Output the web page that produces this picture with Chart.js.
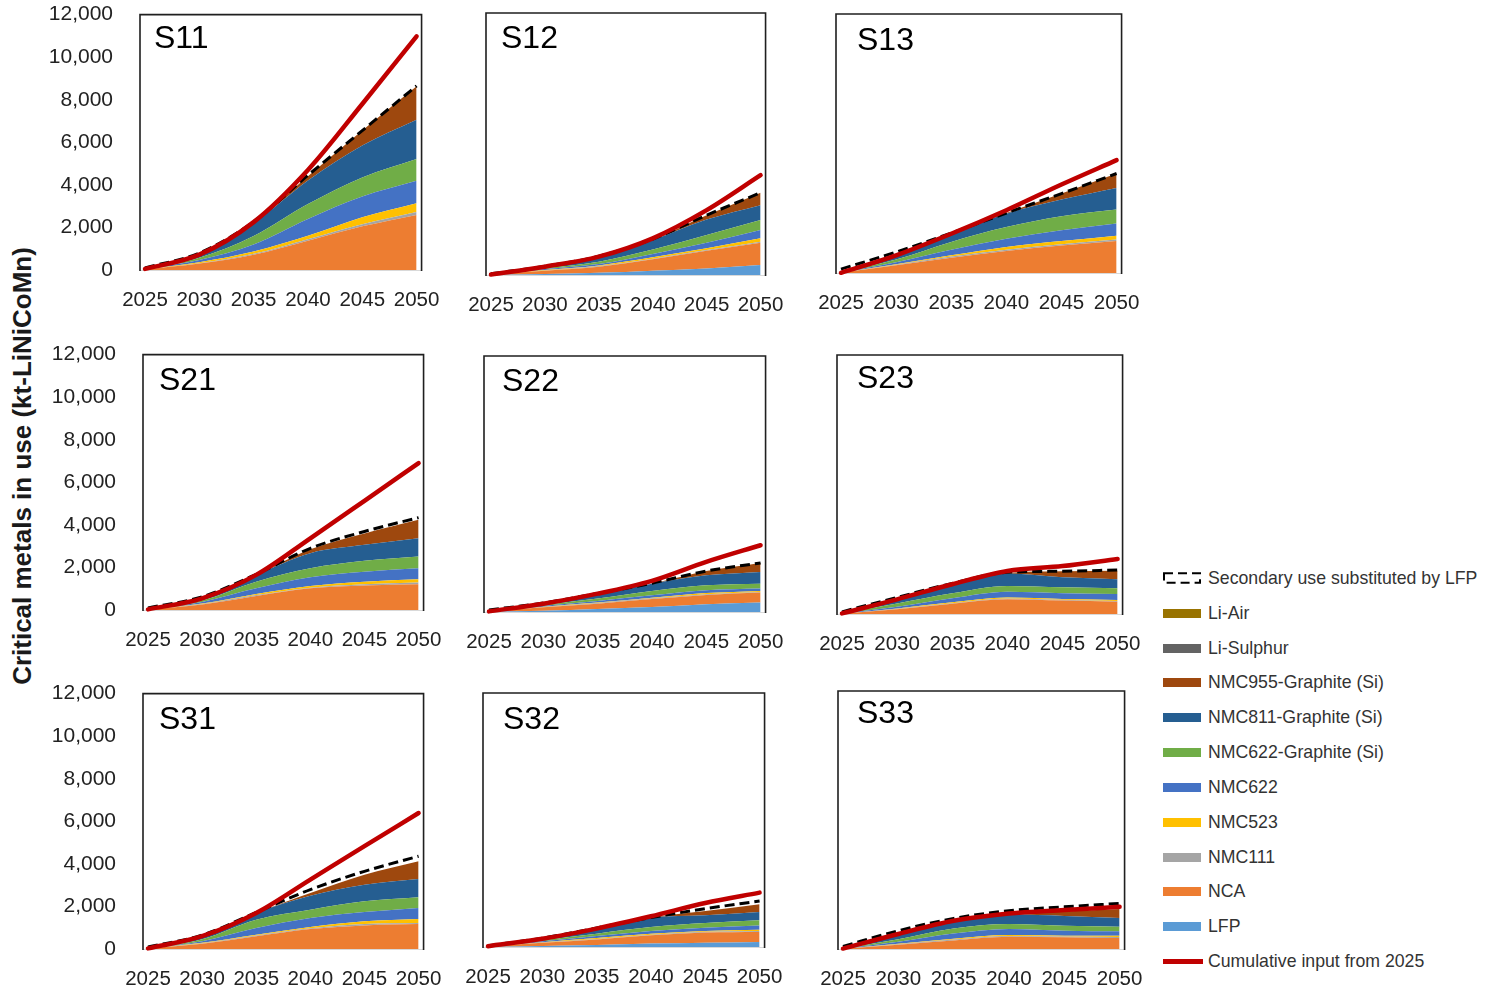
<!DOCTYPE html>
<html>
<head>
<meta charset="utf-8">
<script src="https://cdn.jsdelivr.net/npm/chart.js@4.4.1/dist/chart.umd.min.js"></script>
<style>
  html, body { margin: 0; padding: 0; background: #fff; }
  body { width: 1497px; height: 991px; position: relative; overflow: hidden; font-family: "Liberation Sans", Arial, sans-serif; }
  canvas { position: absolute; }
  #ytitle { position: absolute; left: 22px; top: 466px; transform: translate(-50%, -50%) rotate(-90deg); white-space: nowrap; font-weight: bold; font-size: 26px; color: #1a1a1a; }
  .lg { position: absolute; left: 1163px; height: 22px; display: flex; align-items: center; font-size: 17.7px; color: #333; white-space: nowrap; }
  .sw { display: inline-block; width: 38px; height: 9px; margin-right: 7px; flex: none; }
</style>
</head>
<body>
<div id="ytitle">Critical metals in use (kt-LiNiCoMn)</div>
<div id="legend"></div>
<script>
// ---------------- DATA ----------------
const years = [2025, 2030, 2035, 2040, 2045, 2050];
const xTickValues = [2025, 2030, 2035, 2040, 2045, 2050];
const yTickValues = [0, 2000, 4000, 6000, 8000, 10000, 12000];
const seriesNames = ['LFP', 'NCA', 'NMC111', 'NMC523', 'NMC622', 'NMC622-Graphite (Si)', 'NMC811-Graphite (Si)', 'NMC955-Graphite (Si)', 'Li-Sulphur', 'Li-Air'];
const secondaryName = 'Secondary use substituted by LFP';
const cumulativeName = 'Cumulative input from 2025';
const panelNames = ['S11', 'S12', 'S13', 'S21', 'S22', 'S23', 'S31', 'S32', 'S33'];

// layer values (kt), rows in seriesNames order, columns in years order
const S11_layers = [
  [0, 0, 0, 0, 0, 0],
  [30, 300, 720, 1380, 2050, 2590],
  [10, 20, 40, 70, 100, 140],
  [10, 50, 110, 160, 330, 410],
  [10, 100, 330, 790, 970, 1050],
  [10, 110, 400, 700, 900, 1030],
  [10, 170, 600, 1100, 1500, 1840],
  [0, 0, 50, 200, 700, 1570],
  [0, 0, 0, 0, 0, 0],
  [0, 0, 0, 0, 0, 0]
];
const S11_secondary = [100, 800, 2270, 4450, 6550, 8650];
const S11_cumulative = [50, 720, 2250, 4700, 7800, 10980];

const S12_layers = [
  [10, 50, 100, 200, 300, 460],
  [20, 150, 280, 520, 810, 1020],
  [0, 10, 30, 30, 30, 40],
  [10, 20, 30, 60, 80, 160],
  [0, 40, 60, 150, 260, 380],
  [10, 40, 110, 210, 350, 460],
  [0, 50, 230, 430, 710, 680],
  [0, 0, 0, 30, 200, 570],
  [0, 0, 0, 0, 0, 0],
  [0, 0, 0, 0, 0, 0]
];
const S12_secondary = [60, 400, 860, 1650, 2740, 3770];
const S12_cumulative = [20, 380, 840, 1680, 2970, 4570];

const S13_layers = [
  [0, 0, 0, 0, 0, 0],
  [20, 360, 710, 1020, 1270, 1480],
  [0, 20, 50, 60, 60, 70],
  [0, 30, 60, 130, 150, 180],
  [10, 90, 260, 380, 500, 560],
  [0, 120, 360, 540, 650, 650],
  [0, 130, 380, 620, 770, 1000],
  [0, 0, 0, 30, 280, 670],
  [0, 0, 0, 0, 0, 0],
  [0, 0, 0, 0, 0, 0]
];
const S13_secondary = [180, 970, 1850, 2780, 3680, 4610];
const S13_cumulative = [10, 820, 1820, 2910, 4100, 5230];

const S21_layers = [
  [0, 0, 0, 0, 0, 0],
  [30, 260, 660, 1020, 1150, 1210],
  [0, 20, 40, 30, 60, 80],
  [0, 20, 50, 80, 120, 150],
  [10, 80, 270, 410, 470, 520],
  [0, 70, 310, 420, 510, 550],
  [10, 100, 320, 710, 750, 860],
  [0, 0, 0, 180, 540, 870],
  [0, 0, 0, 0, 0, 0],
  [0, 0, 0, 0, 0, 0]
];
const S21_secondary = [100, 620, 1680, 2900, 3690, 4340];
const S21_cumulative = [30, 550, 1650, 3370, 5130, 6900];

const S22_layers = [
  [10, 60, 140, 230, 360, 440],
  [20, 160, 250, 380, 440, 470],
  [0, 10, 30, 30, 30, 30],
  [0, 20, 20, 30, 60, 50],
  [10, 40, 80, 110, 130, 110],
  [0, 40, 110, 210, 230, 230],
  [10, 60, 220, 340, 470, 550],
  [0, 0, 0, 0, 200, 420],
  [0, 0, 0, 0, 0, 0],
  [0, 0, 0, 0, 0, 0]
];
const S22_secondary = [100, 420, 870, 1350, 1920, 2300];
const S22_cumulative = [30, 390, 860, 1460, 2350, 3130];

const S23_layers = [
  [0, 0, 0, 0, 0, 0],
  [20, 220, 480, 680, 620, 570],
  [0, 20, 20, 40, 40, 30],
  [0, 20, 40, 40, 40, 50],
  [10, 80, 190, 270, 260, 280],
  [0, 150, 230, 270, 280, 260],
  [0, 130, 380, 580, 460, 420],
  [0, 0, 0, 20, 280, 390],
  [0, 0, 0, 0, 0, 0],
  [0, 0, 0, 0, 0, 0]
];
const S23_secondary = [100, 770, 1420, 1930, 1980, 2040];
const S23_cumulative = [30, 680, 1380, 1990, 2220, 2550];

const S31_layers = [
  [0, 0, 0, 0, 0, 0],
  [30, 250, 600, 940, 1110, 1170],
  [0, 20, 30, 30, 70, 50],
  [0, 20, 40, 60, 120, 190],
  [10, 80, 320, 430, 440, 520],
  [0, 90, 390, 390, 500, 500],
  [10, 120, 310, 650, 780, 860],
  [0, 0, 0, 130, 470, 830],
  [0, 0, 0, 0, 0, 0],
  [0, 0, 0, 0, 0, 0]
];
const S31_secondary = [100, 650, 1720, 2790, 3650, 4360];
const S31_cumulative = [30, 600, 1690, 3260, 4830, 6390];

const S32_layers = [
  [10, 50, 90, 160, 200, 240],
  [20, 150, 270, 390, 480, 470],
  [0, 10, 20, 30, 40, 50],
  [0, 20, 50, 50, 40, 60],
  [10, 40, 90, 130, 150, 200],
  [0, 50, 110, 180, 220, 240],
  [0, 70, 240, 450, 370, 390],
  [0, 0, 0, 0, 200, 370],
  [0, 0, 0, 0, 0, 0],
  [0, 0, 0, 0, 0, 0]
];
const S32_secondary = [60, 420, 900, 1390, 1810, 2170];
const S32_cumulative = [40, 390, 870, 1450, 2080, 2570];

const S33_layers = [
  [0, 0, 0, 0, 0, 0],
  [10, 200, 400, 570, 550, 510],
  [0, 20, 40, 40, 30, 50],
  [0, 20, 40, 40, 40, 60],
  [10, 100, 240, 280, 230, 200],
  [0, 110, 230, 230, 230, 210],
  [0, 230, 360, 440, 460, 410],
  [0, 0, 0, 20, 200, 420],
  [0, 0, 0, 0, 0, 0],
  [0, 0, 0, 0, 0, 0]
];
const S33_secondary = [120, 850, 1420, 1780, 1960, 2120];
const S33_cumulative = [20, 700, 1310, 1650, 1810, 1960];

// ---------------- STYLE / LAYOUT ----------------
const seriesColors = ['#5B9BD5', '#ED7D31', '#A5A5A5', '#FFC000', '#4472C4', '#70AD47', '#255E91', '#9E480E', '#636363', '#997300'];
const redColor = '#C00000';
const FONT = '"Liberation Sans", Arial, sans-serif';

const panels = [
  { layers: S11_layers, sec: S11_secondary, cum: S11_cumulative, box: [140, 15, 422, 270], lab: [14, 33], yAxis: true },
  { layers: S12_layers, sec: S12_secondary, cum: S12_cumulative, box: [486, 13, 766, 275], lab: [15, 35], yAxis: false },
  { layers: S13_layers, sec: S13_secondary, cum: S13_cumulative, box: [836, 14, 1122, 273], lab: [21, 36], yAxis: false },
  { layers: S21_layers, sec: S21_secondary, cum: S21_cumulative, box: [143, 355, 424, 610], lab: [16, 35], yAxis: true },
  { layers: S22_layers, sec: S22_secondary, cum: S22_cumulative, box: [484, 356, 766, 612], lab: [18, 35], yAxis: false },
  { layers: S23_layers, sec: S23_secondary, cum: S23_cumulative, box: [837, 355, 1123, 614], lab: [20, 33], yAxis: false },
  { layers: S31_layers, sec: S31_secondary, cum: S31_cumulative, box: [143, 694, 424, 949], lab: [16, 35], yAxis: true },
  { layers: S32_layers, sec: S32_secondary, cum: S32_cumulative, box: [483, 693, 765, 947], lab: [20, 36], yAxis: false },
  { layers: S33_layers, sec: S33_secondary, cum: S33_cumulative, box: [838, 691, 1125, 949], lab: [19, 32], yAxis: false }
];

const framePlugin = {
  id: 'frame',
  beforeDatasetsDraw(chart, args, opts) {
    const { ctx, chartArea: a } = chart;
    ctx.save();
    ctx.strokeStyle = '#d9d9d9';
    ctx.lineWidth = 1;
    ctx.beginPath();
    ctx.moveTo(a.left, a.bottom + 0.5);
    ctx.lineTo(a.right, a.bottom + 0.5);
    ctx.stroke();
    ctx.strokeStyle = '#1f1f1f';
    ctx.lineWidth = 1.6;
    ctx.beginPath();
    ctx.moveTo(a.left, a.bottom + 1);
    ctx.lineTo(a.left, a.top);
    ctx.lineTo(a.right, a.top);
    ctx.lineTo(a.right, a.bottom + 1);
    ctx.stroke();
    ctx.restore();
  },
  afterDraw(chart, args, opts) {
    const { ctx, chartArea: a } = chart;
    ctx.save();
    ctx.font = '32px ' + FONT;
    ctx.fillStyle = '#000';
    ctx.textBaseline = 'alphabetic';
    ctx.textAlign = 'left';
    ctx.fillText(opts.label, a.left + opts.dx, a.top + opts.dy);
    ctx.restore();
  }
};

const toXY = arr => arr.map((v, i) => ({ x: years[i], y: v }));

function makeChart(p, idx, geom) {
  const [bl, bt, br, bb] = p.box;
  const c = document.createElement('canvas');
  c.width = Math.round(geom.W); c.height = Math.round(geom.H);
  c.style.left = geom.L + 'px';
  c.style.top = geom.T + 'px';
  document.body.appendChild(c);

  const pxPerYear = (br - bl - 10) / (years[years.length - 1] - years[0]);
  const xPad = 5 / pxPerYear;

  const datasets = [];
  p.layers.forEach((vals, i) => {
    datasets.push({
      label: seriesNames[i],
      data: toXY(vals),
      stack: 'tech',
      backgroundColor: seriesColors[i],
      borderColor: 'rgba(0,0,0,0)',
      borderWidth: 0,
      fill: i === 0 ? 'origin' : '-1',
      order: 2,
      pointRadius: 0,
      cubicInterpolationMode: 'monotone'
    });
  });
  datasets.push({
    label: secondaryName,
    data: toXY(p.sec),
    stack: 'secondary',
    borderColor: '#000',
    borderWidth: 3,
    borderDash: [10, 5],
    fill: false,
    order: 1,
    pointRadius: 0,
    clip: false,
    cubicInterpolationMode: 'monotone'
  });
  datasets.push({
    label: cumulativeName,
    data: toXY(p.cum),
    stack: 'cumulative',
    borderColor: redColor,
    borderWidth: 4.5,
    borderCapStyle: 'round',
    fill: false,
    order: 0,
    pointRadius: 0,
    clip: false,
    cubicInterpolationMode: 'monotone'
  });

  const chart = new Chart(c, {
    type: 'line',
    data: { datasets },
    plugins: [framePlugin],
    options: {
      responsive: false,
      animation: false,
      devicePixelRatio: 1,
      events: [],
      layout: { padding: { left: geom.padL, top: 15, right: 35, bottom: 5 } },
      plugins: {
        legend: { display: false },
        tooltip: { enabled: false },
        frame: { label: panelNames[idx], dx: p.lab[0], dy: p.lab[1] }
      },
      scales: {
        x: {
          type: 'linear',
          min: years[0] - xPad,
          max: years[years.length - 1] + xPad,
          grid: { display: false, drawTicks: false },
          border: { display: false },
          afterBuildTicks: s => { s.ticks = xTickValues.map(v => ({ value: v })); },
          afterFit: s => { s.height = 50; },
          ticks: {
            autoSkip: false, maxRotation: 0, minRotation: 0, padding: 18,
            color: '#222', font: { family: FONT, size: 20.5 },
            callback: v => String(v)
          }
        },
        y: {
          display: p.yAxis,
          stacked: true,
          min: 0,
          max: 12000,
          grid: { display: false, drawTicks: false },
          border: { display: false },
          afterBuildTicks: s => { s.ticks = yTickValues.map(v => ({ value: v })); },
          afterFit: s => { s.width = geom.yW; },
          ticks: {
            padding: 27, color: '#222', font: { family: FONT, size: 21 },
            callback: v => Number(v).toLocaleString('en-US')
          }
        }
      }
    }
  });
  return { chart, canvas: c };
}

panels.forEach((p, idx) => {
  const [bl, bt, br, bb] = p.box;
  const padL = p.yAxis ? 0 : 40;
  const L = p.yAxis ? 30 : bl - 40;
  const yW = p.yAxis ? bl - L : 0;
  const T = bt - 15;
  const geom = { L, T, W: (br + 35) - L, H: (bb + 55) - T, padL, yW };
  // first pass: measure where the library put the plot area, then correct the canvas
  const first = makeChart(p, idx, geom);
  const a = first.chart.chartArea;
  const eL = L + a.left - bl;
  const eT = T + a.top - bt;
  const eR = br - L - a.right;
  const eB = bb - T - a.bottom;
  first.chart.destroy();
  first.canvas.remove();
  const g2 = { L: L - eL, T: T - eT, W: geom.W + eL + eR, H: geom.H + eT + eB, padL, yW };
  makeChart(p, idx, g2);
});

// ---------------- LEGEND (HTML) ----------------
const legendItems = [{ name: secondaryName, kind: 'dash' }]
  .concat(seriesNames.map((n, i) => ({ name: n, kind: 'fill', color: seriesColors[i] })).reverse())
  .concat([{ name: cumulativeName, kind: 'line', color: redColor }]);
const legend = document.getElementById('legend');
legendItems.forEach((it, i) => {
  const yc = 578.3 + i * 34.85;
  const d = document.createElement('div');
  d.className = 'lg';
  d.style.top = (yc - 11) + 'px';
  let sw;
  if (it.kind === 'dash') {
    sw = '<svg width="38" height="12" style="margin-right:7px;flex:none"><rect x="1" y="1.2" width="36" height="9.6" fill="none" stroke="#000" stroke-width="2" stroke-dasharray="9,5"/></svg>';
  } else if (it.kind === 'line') {
    sw = '<span class="sw" style="height:4.5px;width:40px;margin-right:5px;background:' + it.color + '"></span>';
  } else {
    sw = '<span class="sw" style="background:' + it.color + '"></span>';
  }
  d.innerHTML = sw + '<span>' + it.name + '</span>';
  legend.appendChild(d);
});
</script>
</body>
</html>
